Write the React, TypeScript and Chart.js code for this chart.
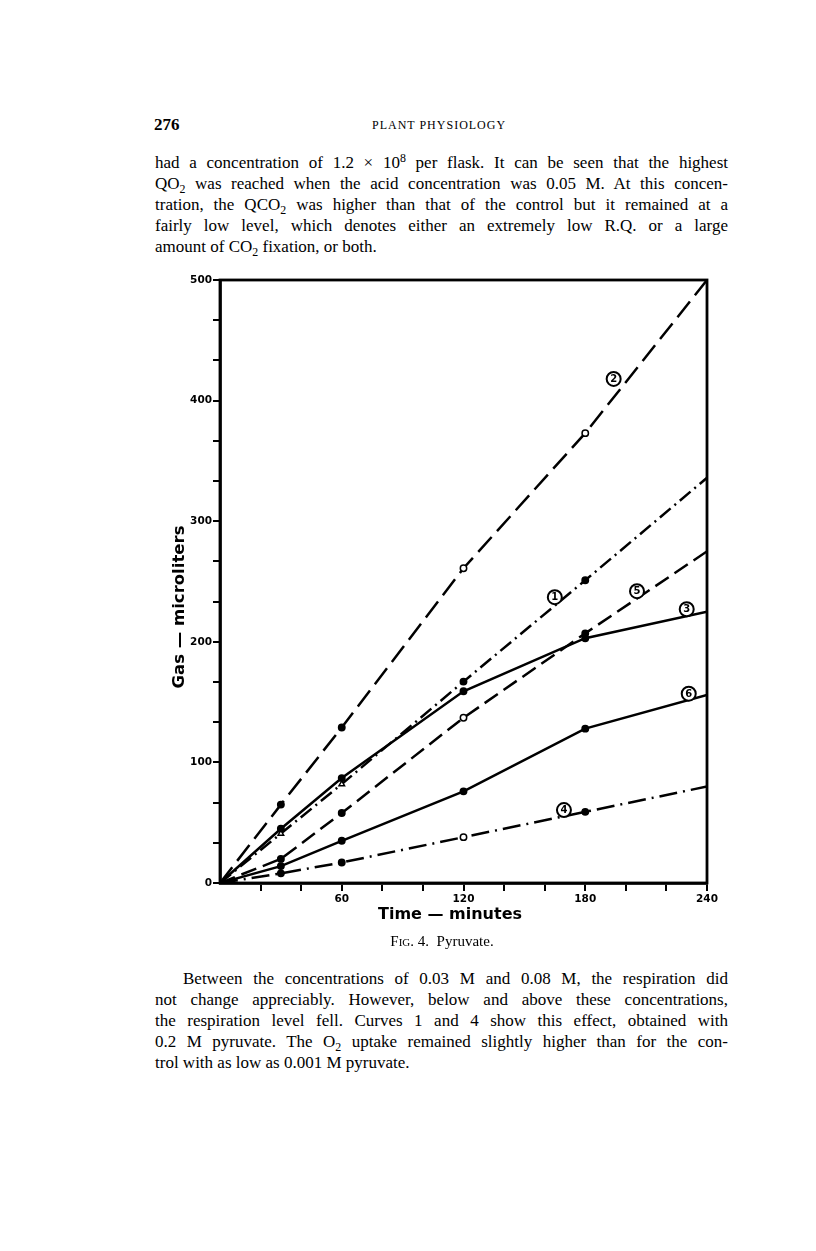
import React, { useEffect, useRef } from "react";
import { Chart, registerables } from "chart.js";

Chart.register(...registerables);

// ---- data ----
const times = [0, 30, 60, 120, 180, 240];
const curve1 = [0, 41, 82, 167, 251, 336];
const curve2 = [0, 65, 129, 261, 373, 500];
const curve3 = [0, 45, 87, 159, 203, 225];
const curve4 = [0, 8, 17, 38, 59, 80];
const curve5 = [0, 20, 58, 137, 207, 275];
const curve6 = [0, 14, 35, 76, 128, 156];

const xTickValues = [20, 40, 60, 80, 100, 120, 140, 160, 180, 200, 220, 240];
const xTickLabels: Record<number, string> = { 60: "60", 120: "120", 180: "180", 240: "240" };
const yMajorTicks = [0, 100, 200, 300, 400, 500];
const yTickLabels: Record<number, string> = { 0: "0", 100: "100", 200: "200", 300: "300", 400: "400", 500: "500" };

// circled curve numbers, placed in data units
const curveLabelText = ["2", "1", "5", "3", "6", "4"];
const curveLabelX = [194, 165, 205.5, 230, 231, 169.5];
const curveLabelY = [418, 237, 242, 227, 157, 60.5];

const xTitle = "Time — minutes";
const yTitle = "Gas — microliters";

const HAND = '"DejaVu Sans", sans-serif';

const paperPlugin = {
  id: "paper",
  afterDatasetsDraw(chart: any) {
    const { ctx, chartArea, scales } = chart;
    const { left, top, right, bottom } = chartArea;
    const xs = scales.x;
    const ys = scales.y;
    ctx.save();
    ctx.strokeStyle = "#000";
    ctx.lineWidth = 2.8;
    ctx.strokeRect(left, top, right - left, bottom - top);

    for (let i = 0; i < curveLabelText.length; i++) {
      const px = xs.getPixelForValue(curveLabelX[i]);
      const py = ys.getPixelForValue(curveLabelY[i]);
      ctx.beginPath();
      ctx.arc(px, py, 7, 0, Math.PI * 2);
      ctx.fillStyle = "#fff";
      ctx.fill();
      ctx.lineWidth = 2;
      ctx.strokeStyle = "#000";
      ctx.stroke();
      ctx.fillStyle = "#000";
      ctx.font = `bold 10px ${HAND}`;
      ctx.textAlign = "center";
      ctx.textBaseline = "middle";
      ctx.fillText(curveLabelText[i], px, py + 0.5);
    }

    ctx.fillStyle = "#000";
    ctx.font = `bold 16px ${HAND}`;
    ctx.textAlign = "center";
    ctx.textBaseline = "middle";
    ctx.fillText(xTitle, left + 230, bottom + 32);

    ctx.translate(left - 40, bottom - 276);
    ctx.rotate(-Math.PI / 2);
    ctx.font = `bold 16.5px ${HAND}`;
    ctx.fillText(yTitle, 0, 0);
    ctx.restore();
  },
};

function ChartBox() {
  const ref = useRef<HTMLCanvasElement | null>(null);
  useEffect(() => {
    if (!ref.current) return;
    const mk = (vals: number[]) => times.map((t, i) => ({ x: t, y: vals[i] }));
    const base = {
      borderColor: "#000",
      borderWidth: 2.5,
      pointBorderColor: "#000",
      pointBorderWidth: 1.5,
      pointRadius: [0, 3.2, 3.2, 3.2, 3.2, 0],
      tension: 0,
      fill: false,
    };
    const chart = new Chart(ref.current, {
      type: "line",
      data: {
        datasets: [
          {
            ...base,
            label: "1",
            data: mk(curve1),
            borderDash: [14, 5, 2, 5],
            pointStyle: ["circle", "triangle", "triangle", "circle", "circle", "circle"],
            pointBackgroundColor: ["#000", "#fff", "#fff", "#000", "#000", "#000"],
          },
          {
            ...base,
            label: "2",
            data: mk(curve2),
            borderDash: [20, 8],
            pointBackgroundColor: ["#000", "#000", "#000", "#fff", "#fff", "#000"],
          },
          {
            ...base,
            label: "3",
            data: mk(curve3),
            pointBackgroundColor: "#000",
          },
          {
            ...base,
            label: "4",
            data: mk(curve4),
            borderDash: [18, 6, 2, 6],
            pointBackgroundColor: ["#000", "#000", "#000", "#fff", "#000", "#000"],
          },
          {
            ...base,
            label: "5",
            data: mk(curve5),
            borderDash: [16, 7],
            pointBackgroundColor: ["#000", "#000", "#000", "#fff", "#000", "#000"],
          },
          {
            ...base,
            label: "6",
            data: mk(curve6),
            pointBackgroundColor: "#000",
          },
        ],
      },
      options: {
        animation: false,
        responsive: false,
        maintainAspectRatio: false,
        layout: { padding: { top: 18, right: 33, left: 0, bottom: 0 } },
        plugins: { legend: { display: false }, tooltip: { enabled: false } },
        scales: {
          x: {
            type: "linear",
            min: 0,
            max: 240,
            afterBuildTicks: (s: any) => {
              s.ticks = xTickValues.map((v) => ({ value: v }));
            },
            afterFit: (s: any) => {
              s.height = 79;
            },
            grid: { drawOnChartArea: false, drawTicks: true, tickLength: 8, color: "#000", lineWidth: 2 },
            border: { display: true, color: "#000", width: 2.8 },
            ticks: {
              autoSkip: false,
              maxRotation: 0,
              padding: 2,
              color: "#000",
              font: { family: HAND, weight: "bold", size: 10.5 },
              callback: (v: any) => xTickLabels[v as number] ?? "",
            },
          },
          y: {
            type: "linear",
            min: 0,
            max: 500,
            afterBuildTicks: (s: any) => {
              const t: { value: number }[] = [];
              yMajorTicks.forEach((v, i) => {
                t.push({ value: v });
                if (i < yMajorTicks.length - 1) {
                  const step = (yMajorTicks[i + 1] - v) / 3;
                  t.push({ value: v + step });
                  t.push({ value: v + 2 * step });
                }
              });
              s.ticks = t;
            },
            afterFit: (s: any) => {
              s.width = 80;
            },
            grid: { drawOnChartArea: false, drawTicks: true, tickLength: 7, color: "#000", lineWidth: 2 },
            border: { display: true, color: "#000", width: 2.8 },
            ticks: {
              autoSkip: false,
              padding: 1,
              color: "#000",
              font: { family: HAND, weight: "bold", size: 10.5 },
              callback: (v: any) => yTickLabels[v as number] ?? "",
            },
          },
        },
      },
      plugins: [paperPlugin],
    } as any);
    return () => chart.destroy();
  }, []);
  return (
    <canvas
      ref={ref}
      width={600}
      height={700}
      style={{ position: "absolute", left: 140, top: 262, width: 600, height: 700 }}
    />
  );
}

const sub = { fontSize: "0.7em", verticalAlign: "-0.3em", lineHeight: 0 } as React.CSSProperties;
const sup = { fontSize: "0.7em", verticalAlign: "0.5em", lineHeight: 0 } as React.CSSProperties;

const lineJ: React.CSSProperties = { textAlign: "justify", textAlignLast: "justify", height: 21 };
const lineL: React.CSSProperties = { textAlign: "left", height: 21 };

export default function App() {
  const serif = '"Liberation Serif", "Times New Roman", serif';
  return (
    <div
      style={{
        position: "absolute",
        left: 0,
        top: 0,
        width: 816,
        height: 1251,
        background: "#fff",
        color: "#000",
        fontFamily: serif,
        overflow: "hidden",
      }}
    >
      <div style={{ position: "absolute", left: 154, top: 114, fontSize: 17, fontWeight: "bold", lineHeight: "21px" }}>
        276
      </div>
      <div style={{ position: "absolute", left: 372, top: 116, fontSize: 12, letterSpacing: 1, lineHeight: "18px" }}>
        PLANT PHYSIOLOGY
      </div>

      <div style={{ position: "absolute", left: 155, top: 152, width: 573, fontSize: 17, lineHeight: "21px" }}>
        <div style={lineJ}>
          had a concentration of 1.2 × 10<span style={sup}>8</span> per flask. It can be seen that the highest
        </div>
        <div style={lineJ}>
          QO<span style={sub}>2</span> was reached when the acid concentration was 0.05 M. At this concen-
        </div>
        <div style={lineJ}>
          tration, the QCO<span style={sub}>2</span> was higher than that of the control but it remained at a
        </div>
        <div style={lineJ}>fairly low level, which denotes either an extremely low R.Q. or a large</div>
        <div style={lineL}>
          amount of CO<span style={sub}>2</span> fixation, or both.
        </div>
      </div>

      <ChartBox />

      <div
        style={{
          position: "absolute",
          left: 342,
          top: 932,
          width: 200,
          textAlign: "center",
          fontSize: 15,
          lineHeight: "18px",
          whiteSpace: "pre",
        }}
      >
        <span style={{ fontVariant: "small-caps" }}>Fig.</span>
        {" 4.  Pyruvate."}
      </div>

      <div style={{ position: "absolute", left: 155, top: 968, width: 573, fontSize: 17, lineHeight: "21px" }}>
        <div style={{ ...lineJ, textIndent: 28 }}>
          Between the concentrations of 0.03 M and 0.08 M, the respiration did
        </div>
        <div style={lineJ}>not change appreciably. However, below and above these concentrations,</div>
        <div style={lineJ}>the respiration level fell. Curves 1 and 4 show this effect, obtained with</div>
        <div style={lineJ}>
          0.2 M pyruvate. The O<span style={sub}>2</span> uptake remained slightly higher than for the con-
        </div>
        <div style={lineL}>trol with as low as 0.001 M pyruvate.</div>
      </div>
    </div>
  );
}
